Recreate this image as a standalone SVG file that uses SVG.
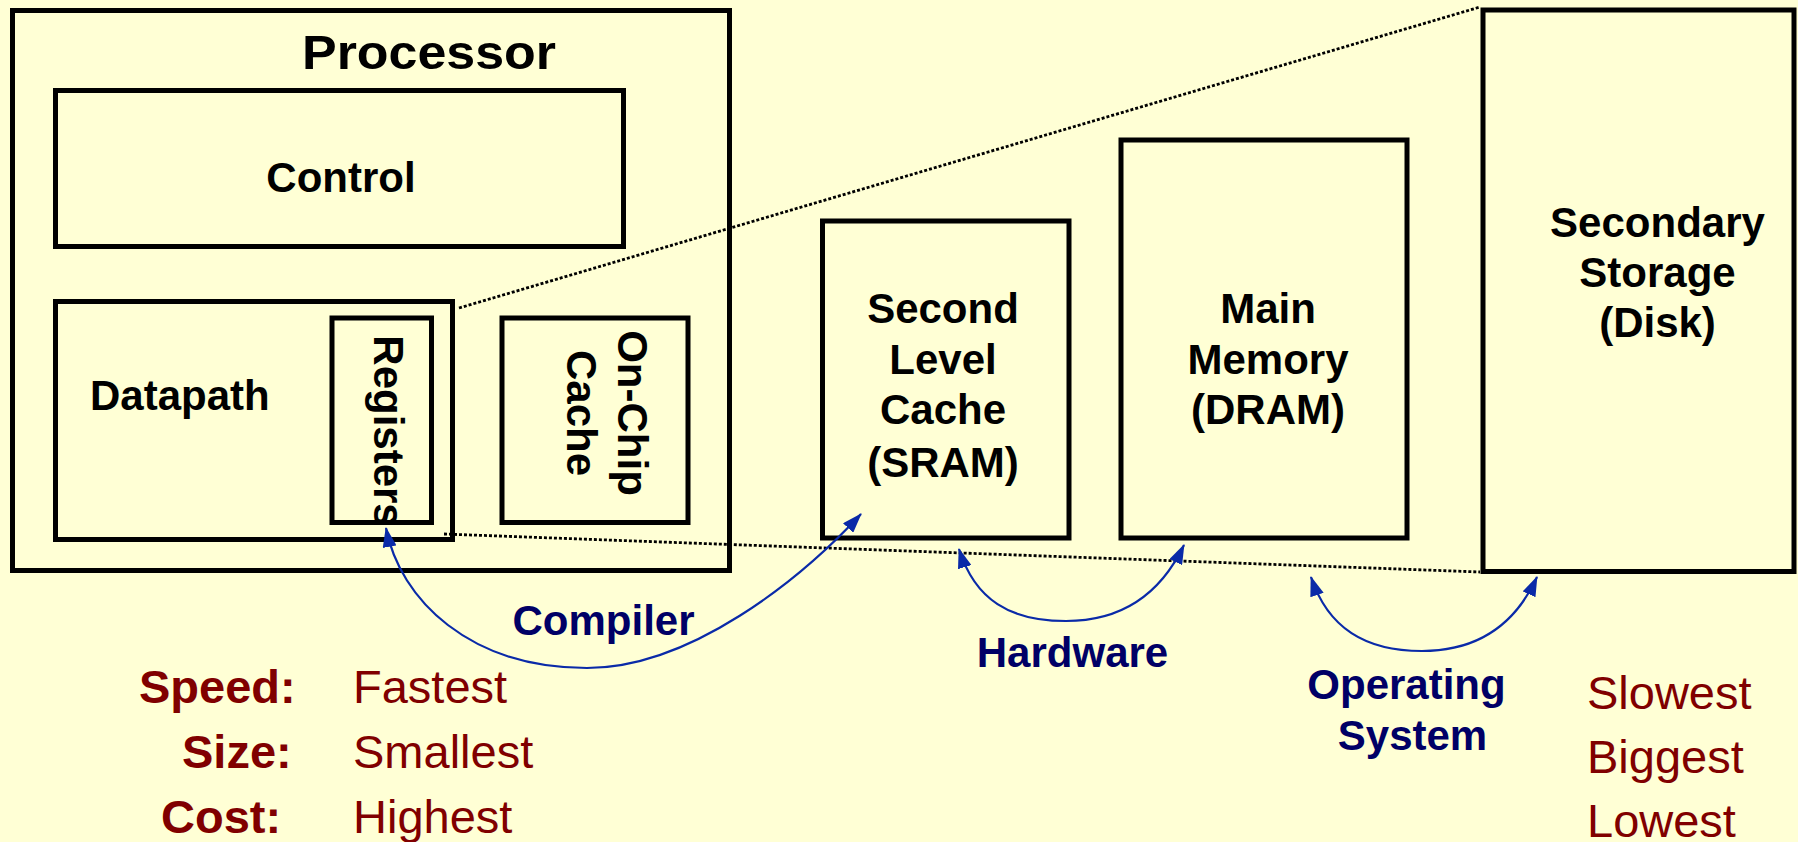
<svg xmlns="http://www.w3.org/2000/svg" width="1798" height="842" viewBox="0 0 1798 842">
<defs>
<style>
.box{fill:none;stroke:#000;stroke-width:5}
.lbl{font-family:"Liberation Sans",Arial,sans-serif;font-weight:bold;font-size:42px;fill:#000}
.nav{font-family:"Liberation Sans",Arial,sans-serif;font-weight:bold;font-size:42px;fill:#000066;text-anchor:middle}
.key{font-family:"Liberation Sans",Arial,sans-serif;font-weight:bold;font-size:47px;fill:#800000}
.val{font-family:"Liberation Sans",Arial,sans-serif;font-size:47px;fill:#800000}
.mid{text-anchor:middle}
.dot{fill:none;stroke:#000;stroke-width:2.8;stroke-dasharray:3 2}
.arc{fill:none;stroke:#0A2AA8;stroke-width:2.2}
</style>
<marker id="ah" viewBox="0 0 20 14" refX="19" refY="7" markerWidth="20" markerHeight="14" markerUnits="userSpaceOnUse" orient="auto-start-reverse">
<path d="M0,0 L20,7 L0,14 z" fill="#0A2AA8"/>
</marker>
</defs>
<rect width="1798" height="842" fill="#FFFFD5"/>

<g id="processor">
<rect class="box" x="12.5" y="10.5" width="717" height="560"/>
<text class="lbl" x="302" y="69" textLength="254" lengthAdjust="spacingAndGlyphs" style="font-size:49px">Processor</text>
</g>
<g id="control">
<rect class="box" x="55.5" y="90.5" width="568" height="156"/>
<text class="lbl mid" x="341" y="192">Control</text>
</g>
<g id="datapath">
<rect class="box" x="55.5" y="301.5" width="397" height="238"/>
<text class="lbl" x="90" y="410">Datapath</text>
</g>
<g id="registers">
<rect class="box" x="332" y="318" width="99.5" height="204.5"/>
<text class="lbl mid" transform="translate(374,431) rotate(90)">Registers</text>
</g>
<g id="onchip-cache">
<rect class="box" x="502" y="318" width="186" height="204.5"/>
<text class="lbl mid" transform="translate(618,413) rotate(90)">On-Chip</text>
<text class="lbl mid" transform="translate(567,413) rotate(90)">Cache</text>
</g>
<g id="l2-cache">
<rect class="box" x="822.5" y="221" width="246.5" height="317"/>
<text class="lbl mid" x="943" y="323">Second</text>
<text class="lbl mid" x="943" y="374">Level</text>
<text class="lbl mid" x="943" y="424">Cache</text>
<text class="lbl mid" x="943" y="477">(SRAM)</text>
</g>
<g id="main-memory">
<rect class="box" x="1121" y="140" width="286" height="398"/>
<text class="lbl mid" x="1268" y="323">Main</text>
<text class="lbl mid" x="1268" y="374">Memory</text>
<text class="lbl mid" x="1268" y="424">(DRAM)</text>
</g>
<g id="secondary-storage">
<rect class="box" x="1483" y="10" width="311" height="561.5"/>
<text class="lbl mid" x="1657.5" y="237">Secondary</text>
<text class="lbl mid" x="1657.5" y="287">Storage</text>
<text class="lbl mid" x="1657.5" y="337">(Disk)</text>
</g>

<g id="connectors">
<line class="dot" x1="459" y1="308" x2="1480" y2="7"/>
<line class="dot" x1="444" y1="534" x2="1480" y2="572"/>
<path class="arc" marker-start="url(#ah)" marker-end="url(#ah)" d="M386,528 C400,600 470,668 587,668 C690,668 800,580 861,514"/>
<path class="arc" marker-start="url(#ah)" marker-end="url(#ah)" d="M959,549 C975,600 1010,621 1066,621 C1120,621 1160,595 1184,545"/>
<path class="arc" marker-start="url(#ah)" marker-end="url(#ah)" d="M1311,577 C1328,628 1365,651 1422,651 C1478,651 1515,625 1537,577"/>
</g>

<g id="labels">
<text class="nav" x="603.5" y="635">Compiler</text>
<text class="nav" x="1072.5" y="667">Hardware</text>
<text class="nav" x="1406.5" y="699">Operating</text>
<text class="nav" x="1412.5" y="750">System</text>
<text class="key" x="139" y="703">Speed:</text>
<text class="key" x="182" y="768">Size:</text>
<text class="key" x="161" y="833">Cost:</text>
<text class="val" x="353" y="703">Fastest</text>
<text class="val" x="353" y="768">Smallest</text>
<text class="val" x="353" y="833">Highest</text>
<text class="val" x="1587" y="709">Slowest</text>
<text class="val" x="1587" y="773">Biggest</text>
<text class="val" x="1587" y="837">Lowest</text>
</g>
</svg>
